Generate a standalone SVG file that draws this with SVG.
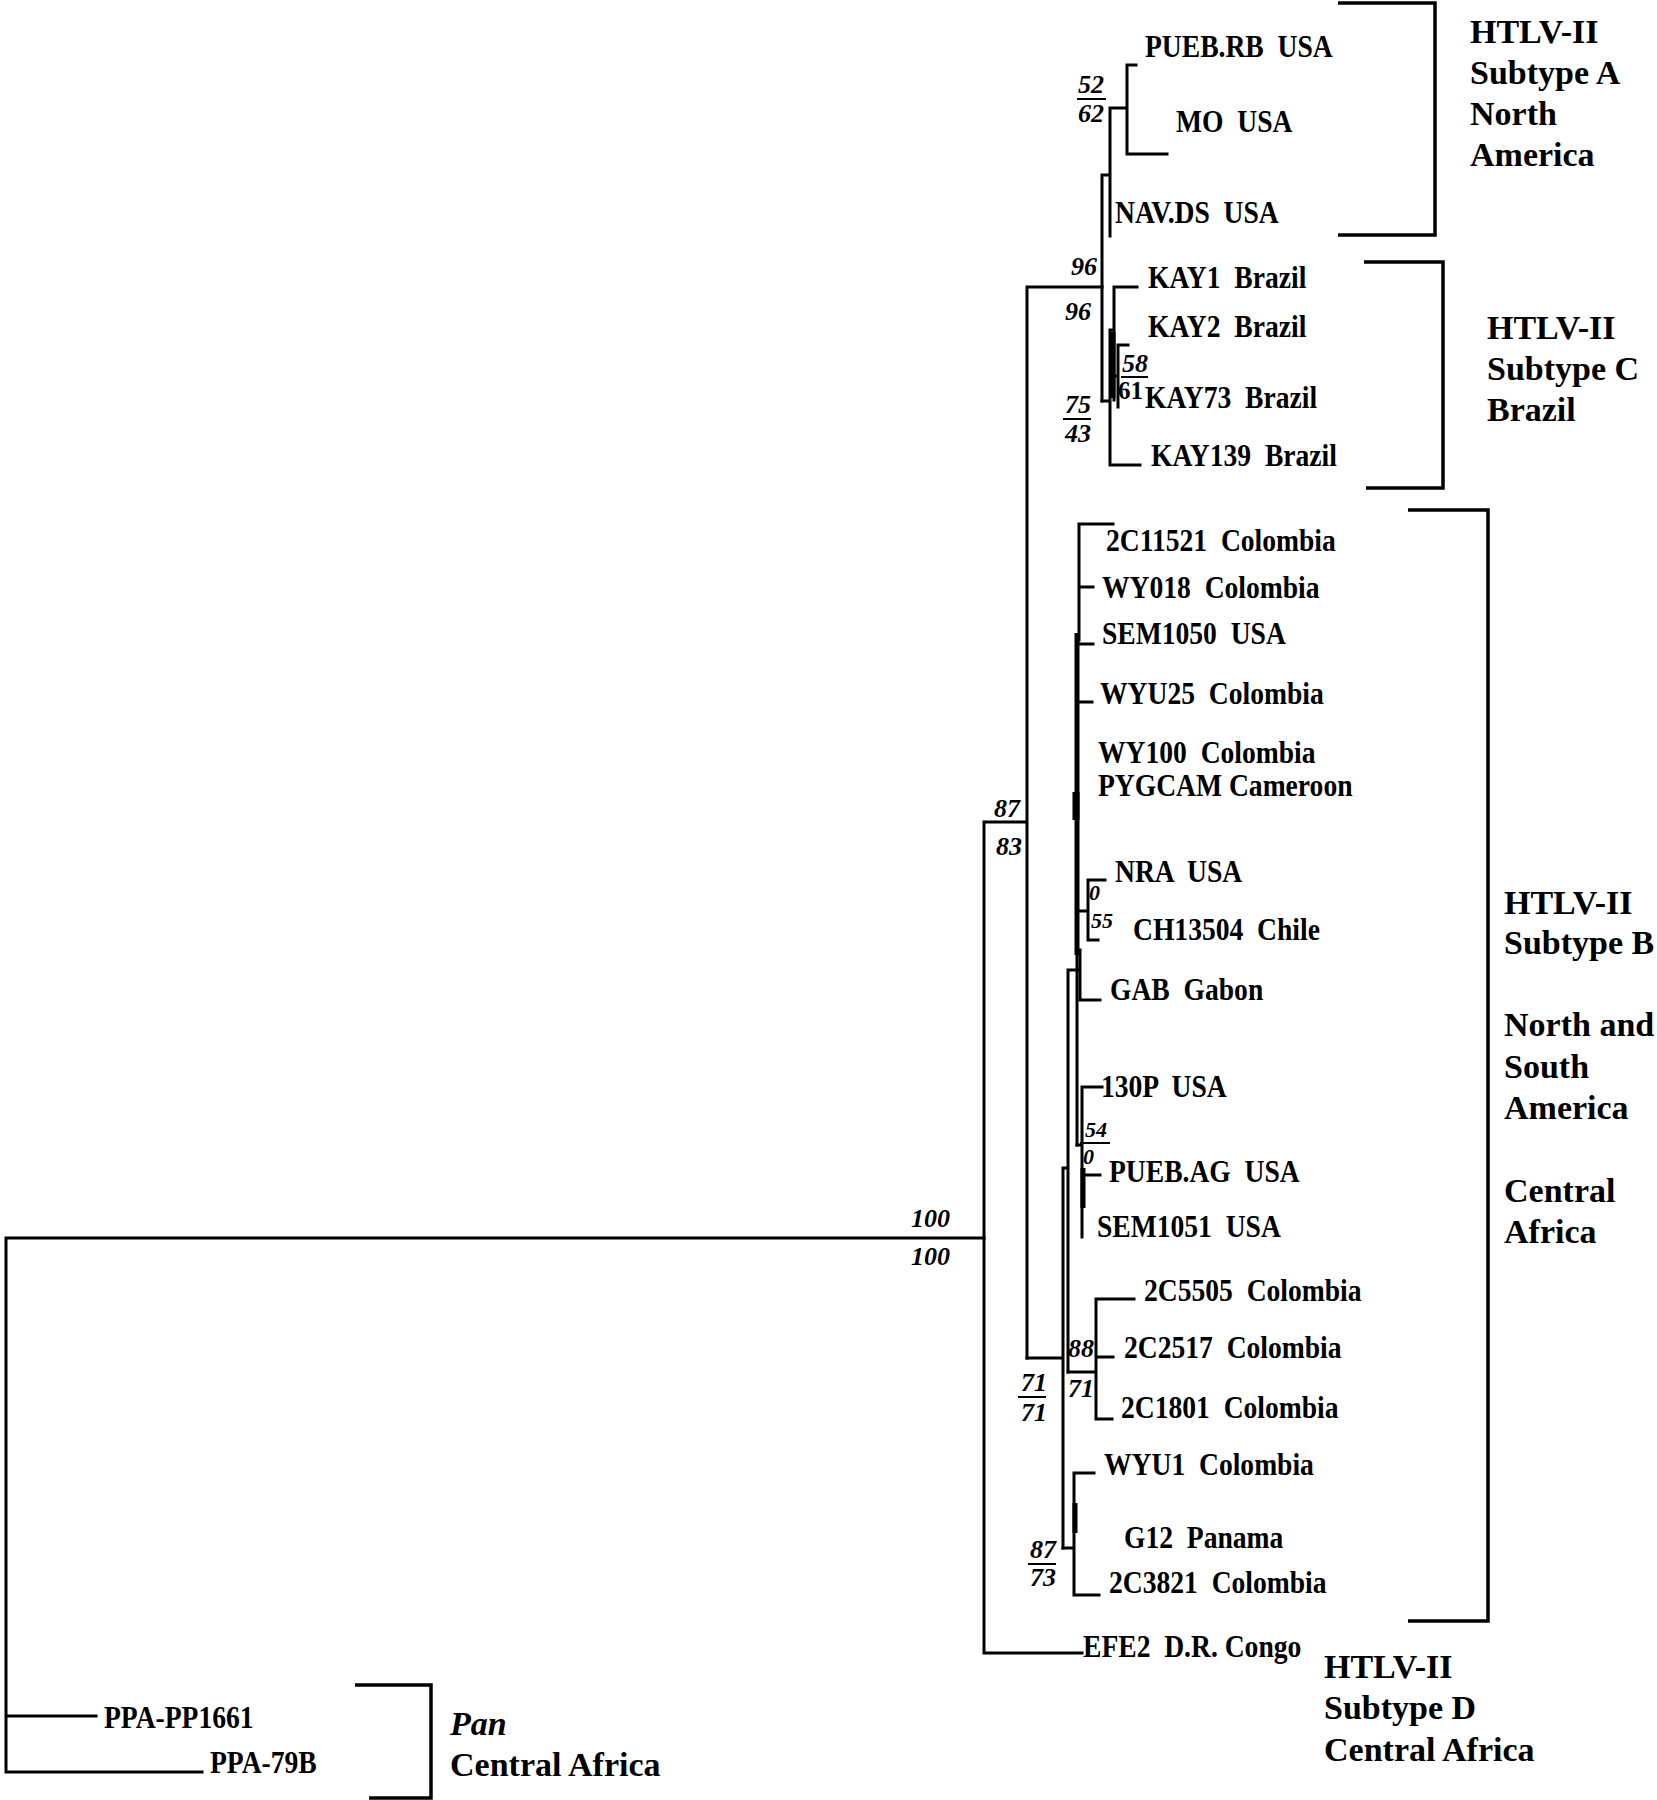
<svg xmlns="http://www.w3.org/2000/svg" width="1657" height="1800" viewBox="0 0 1657 1800">
<style>
text{font-family:"Liberation Serif","Times New Roman",serif;font-weight:bold;fill:#000;white-space:pre}
.lf{font-size:31px}
.sv{font-size:26px;font-style:italic}
.sm{font-size:22px;font-style:italic}
.up{font-size:25px}
.hd{font-size:34px}
.it{font-style:italic}
.ln{stroke:#000;stroke-width:3;fill:none;stroke-linecap:square}
.tk{stroke:#000;stroke-width:5;fill:none}
.bk{stroke:#000;stroke-width:3.5;fill:none}
.bar{stroke:#000;stroke-width:2;fill:none}
</style>
<rect width="1657" height="1800" fill="#fff"/>
<g id="connectors">
<path class="ln" d="M6,1238H984M6,1238V1772M6,1716H96M6,1772H202"/>
<path class="ln" d="M984,822V1653M984,1653H1082M984,822H1027M1027,287V1358M1027,287H1102"/>
<path class="ln" d="M1102,175V401M1102,175H1110M1110,108V236M1110,108H1127M1127,65V154M1127,65H1136M1127,154H1167"/>
<path class="ln" d="M1102,401H1110M1110,330V465M1110,465H1140M1110,330H1114M1114,287V400M1114,287H1137M1114,376H1118M1118,345V407M1118,345H1128"/>
<path class="tk" d="M1113,332V398"/>
<path class="ln" d="M1027,1358H1063M1063,1168V1548M1063,1168H1068M1068,970V1372M1068,970H1079"/>
<path class="ln" d="M1079,524V640M1079,524H1113M1079,587H1093M1077,644H1093M1077,702H1092M1077,955V1145"/>
<path class="tk" d="M1077,633V955"/>
<path class="tk" style="stroke-width:7" d="M1076,792V820"/>
<path class="ln" d="M1077,911H1088M1088,880V940M1088,880H1105M1088,940H1098M1080,950V1000M1080,1000H1100"/>
<path class="ln" d="M1077,1145H1082M1082,1087V1237M1082,1087H1102M1082,1175H1100"/>
<path class="tk" d="M1083,1168V1208"/>
<path class="ln" d="M1068,1372H1096M1096,1299V1419M1096,1299H1134M1096,1357H1113M1096,1419H1112"/>
<path class="ln" d="M1063,1548H1074M1074,1473V1595M1074,1473H1094M1074,1595H1099"/>
<path class="tk" d="M1075,1503V1533"/>
</g>
<g id="brackets">
<path id="bracket-A" class="bk" d="M1338,3H1435V235H1338"/>
<path id="bracket-C" class="bk" d="M1364,262H1443V488H1366"/>
<path id="bracket-B" class="bk" d="M1408,510H1488V1621H1408"/>
<path id="bracket-Pan" class="bk" d="M355,1685H431V1798H369"/>
</g>
<g id="leaves">
<g id="n-puebrb"><text class="lf" transform="translate(1145,57) scale(0.89,1)">PUEB.RB  USA</text></g>
<g id="n-mo"><text class="lf" transform="translate(1176,132) scale(0.89,1)">MO  USA</text></g>
<g id="n-navds"><text class="lf" transform="translate(1115,223) scale(0.89,1)">NAV.DS  USA</text></g>
<g id="n-kay1"><text class="lf" transform="translate(1148,288) scale(0.89,1)">KAY1  Brazil</text></g>
<g id="n-kay2"><text class="lf" transform="translate(1148,337) scale(0.89,1)">KAY2  Brazil</text></g>
<g id="n-kay73"><text class="lf" transform="translate(1145,408) scale(0.89,1)">KAY73  Brazil</text></g>
<g id="n-kay139"><text class="lf" transform="translate(1151,466) scale(0.89,1)">KAY139  Brazil</text></g>
<g id="n-2c11521"><text class="lf" transform="translate(1106,551) scale(0.89,1)">2C11521  Colombia</text></g>
<g id="n-wy018"><text class="lf" transform="translate(1102,598) scale(0.89,1)">WY018  Colombia</text></g>
<g id="n-sem1050"><text class="lf" transform="translate(1102,644) scale(0.89,1)">SEM1050  USA</text></g>
<g id="n-wyu25"><text class="lf" transform="translate(1100,704) scale(0.89,1)">WYU25  Colombia</text></g>
<g id="n-wy100"><text class="lf" transform="translate(1098,763) scale(0.89,1)">WY100  Colombia</text></g>
<g id="n-pygcam"><text class="lf" transform="translate(1098,796) scale(0.89,1)">PYGCAM Cameroon</text></g>
<g id="n-nra"><text class="lf" transform="translate(1115,882) scale(0.89,1)">NRA  USA</text></g>
<g id="n-ch13504"><text class="lf" transform="translate(1133,940) scale(0.89,1)">CH13504  Chile</text></g>
<g id="n-gab"><text class="lf" transform="translate(1110,1000) scale(0.89,1)">GAB  Gabon</text></g>
<g id="n-130p"><text class="lf" transform="translate(1101,1097) scale(0.89,1)">130P  USA</text></g>
<g id="n-puebag"><text class="lf" transform="translate(1109,1182) scale(0.89,1)">PUEB.AG  USA</text></g>
<g id="n-sem1051"><text class="lf" transform="translate(1097,1237) scale(0.89,1)">SEM1051  USA</text></g>
<g id="n-2c5505"><text class="lf" transform="translate(1144,1301) scale(0.89,1)">2C5505  Colombia</text></g>
<g id="n-2c2517"><text class="lf" transform="translate(1124,1358) scale(0.89,1)">2C2517  Colombia</text></g>
<g id="n-2c1801"><text class="lf" transform="translate(1121,1418) scale(0.89,1)">2C1801  Colombia</text></g>
<g id="n-wyu1"><text class="lf" transform="translate(1104,1475) scale(0.89,1)">WYU1  Colombia</text></g>
<g id="n-g12"><text class="lf" transform="translate(1124,1548) scale(0.89,1)">G12  Panama</text></g>
<g id="n-2c3821"><text class="lf" transform="translate(1109,1593) scale(0.89,1)">2C3821  Colombia</text></g>
<g id="n-efe2"><text class="lf" transform="translate(1083,1657) scale(0.89,1)">EFE2  D.R. Congo</text></g>
<g id="n-ppa1661"><text class="lf" transform="translate(104,1728) scale(0.89,1)">PPA-PP1661</text></g>
<g id="n-ppa79b"><text class="lf" transform="translate(210,1773) scale(0.89,1)">PPA-79B</text></g>
</g>
<g id="support">
<text class="sv" x="911" y="1227">100</text>
<text class="sv" x="911" y="1265">100</text>
<text class="sv" x="994" y="817">87</text>
<text class="sv" x="996" y="855">83</text>
<text class="sv" x="1071" y="275">96</text>
<text class="sv" x="1065" y="320">96</text>
<text class="sv" x="1078" y="93">52</text>
<path class="bar" d="M1077,99H1106"/>
<text class="sv" x="1078" y="122">62</text>
<text class="sv" x="1065" y="413">75</text>
<path class="bar" d="M1063,419H1091"/>
<text class="sv" x="1065" y="442">43</text>
<text class="sv" x="1122" y="372">58</text>
<path class="bar" d="M1121,377H1148"/>
<text class="up" x="1118" y="399">61</text>
<text class="sm" x="1089" y="900">0</text>
<text class="sm" x="1091" y="928">55</text>
<text class="sm" x="1085" y="1137">54</text>
<path class="bar" d="M1080,1143H1110"/>
<text class="sm" x="1083" y="1164">0</text>
<text class="sv" x="1021" y="1391">71</text>
<path class="bar" d="M1018,1397H1046"/>
<text class="sv" x="1021" y="1421">71</text>
<text class="sv" x="1068" y="1357">88</text>
<text class="sv" x="1068" y="1397">71</text>
<text class="sv" x="1030" y="1558">87</text>
<path class="bar" d="M1028,1564H1056"/>
<text class="sv" x="1030" y="1586">73</text>
</g>
<g id="label-A"><text class="hd" x="1470" y="43">HTLV-II</text><text class="hd" x="1470" y="84">Subtype A</text><text class="hd" x="1470" y="125">North</text><text class="hd" x="1470" y="166">America</text></g>
<g id="label-C"><text class="hd" x="1487" y="339">HTLV-II</text><text class="hd" x="1487" y="380">Subtype C</text><text class="hd" x="1487" y="421">Brazil</text></g>
<g id="label-B"><text class="hd" x="1504" y="914">HTLV-II</text><text class="hd" x="1504" y="954">Subtype B</text><text class="hd" x="1504" y="1036">North and</text><text class="hd" x="1504" y="1078">South</text><text class="hd" x="1504" y="1119">America</text><text class="hd" x="1504" y="1202">Central</text><text class="hd" x="1504" y="1243">Africa</text></g>
<g id="label-D"><text class="hd" x="1324" y="1678">HTLV-II</text><text class="hd" x="1324" y="1719">Subtype D</text><text class="hd" x="1324" y="1761">Central Africa</text></g>
<g id="label-Pan"><text class="hd it" x="450" y="1735">Pan</text><text class="hd" x="450" y="1776">Central Africa</text></g>
</svg>
